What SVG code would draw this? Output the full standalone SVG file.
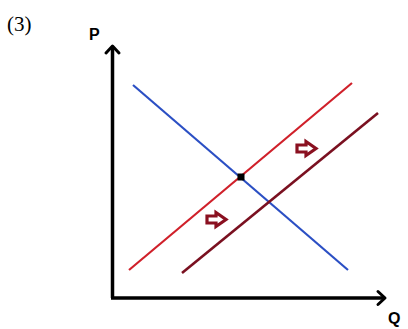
<svg xmlns="http://www.w3.org/2000/svg" width="408" height="329" viewBox="0 0 408 329">
<style>
.axis{stroke:#000;stroke-width:3.5;fill:none}
.head{stroke:#000;stroke-width:3;fill:none;stroke-linecap:round;stroke-linejoin:round}
.lbl{font-family:"Liberation Sans",Arial,sans-serif;font-weight:bold;font-size:16px;fill:#000}
.shift{fill:#fff;stroke:#8a1020;stroke-width:3.2;stroke-linejoin:miter}
</style>
<rect width="408" height="329" fill="#fff"/>
<text x="7" y="31" font-family="'Liberation Serif','Times New Roman',serif" font-size="21" fill="#000">(3)</text>
<g id="axes">
<line class="axis" x1="112.5" y1="47" x2="112.5" y2="298"/>
<line class="axis" x1="111" y1="298" x2="384" y2="298"/>
<polyline class="head" points="106,53 112.5,46 119,53"/>
<polyline class="head" points="378,291.5 385,298 378,304.5"/>
<text class="lbl" x="89" y="40">P</text>
<text class="lbl" x="388" y="324">Q</text>
</g>
<g id="connectors">
<line id="demand" x1="133" y1="85" x2="348" y2="270" stroke="#2b4fc4" stroke-width="2.2"/>
<line id="supply1" x1="129" y1="270" x2="352" y2="83" stroke="#d0202a" stroke-width="2.2"/>
<line id="supply2" x1="182" y1="273" x2="378" y2="113" stroke="#7a1020" stroke-width="2.6"/>
</g>
<g id="equilibrium">
<rect x="237.5" y="173.5" width="7" height="7" fill="#000"/>
</g>
<g id="shift1">
<polygon class="shift" points="297,145 306,145 306,141.5 316,148.5 306,155.5 306,152 297,152"/>
</g>
<g id="shift2">
<polygon class="shift" points="207,216 216,216 216,212.5 226,219.5 216,226.5 216,223 207,223"/>
</g>
</svg>
